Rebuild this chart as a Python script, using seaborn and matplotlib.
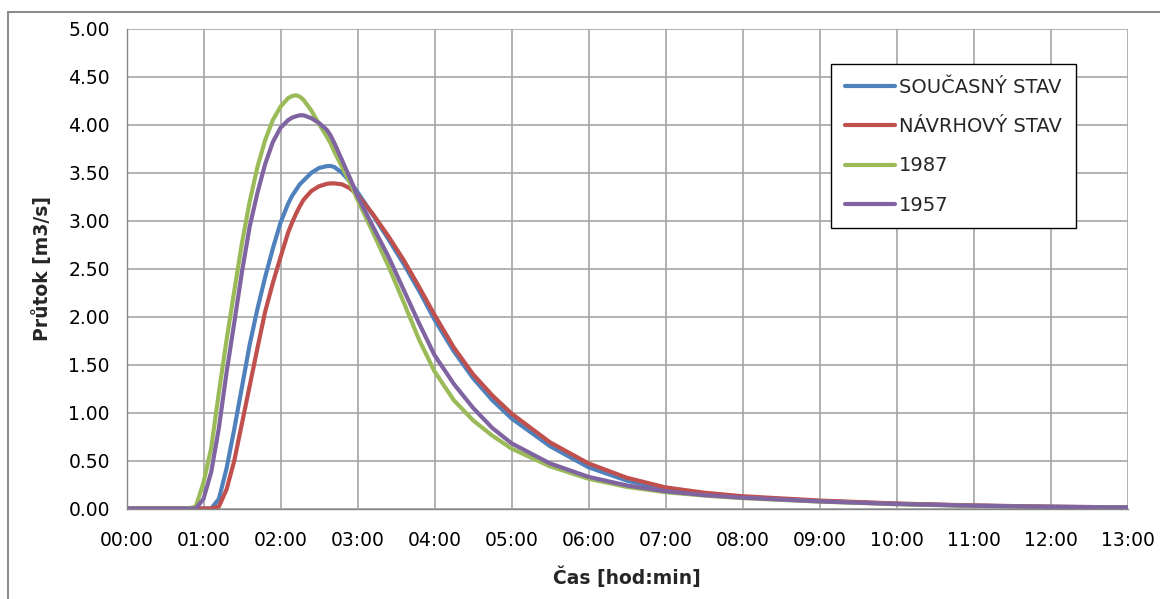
import numpy as np
import pandas as pd
import matplotlib
matplotlib.use("Agg")
import matplotlib.pyplot as plt
from matplotlib.ticker import FuncFormatter
from matplotlib.lines import Line2D
import seaborn as sns

# ---------------- data (time in hours, flow in m3/s) ----------------
time_h = [0, 0.5, 0.8, 0.9, 1.0, 1.1, 1.2, 1.3, 1.4, 1.5, 1.6, 1.7, 1.8, 1.9,
          2.0, 2.1, 2.15, 2.2, 2.25, 2.3, 2.4, 2.5, 2.6, 2.65, 2.7, 2.8, 2.9, 3.0,
          3.2, 3.4, 3.6, 3.8, 4.0, 4.25, 4.5, 4.75, 5.0, 5.5, 6.0, 6.5, 7.0,
          7.5, 8.0, 9.0, 10.0, 11.0, 12.0, 13.0]

soucasny = [0, 0, 0, 0, 0, 0, 0.10, 0.42, 0.83, 1.27, 1.71, 2.08, 2.41, 2.71,
            2.98, 3.18, 3.26, 3.32, 3.38, 3.42, 3.50, 3.55, 3.57, 3.572, 3.56,
            3.50, 3.41, 3.30, 3.06, 2.81, 2.55, 2.27, 1.97, 1.64, 1.36, 1.13,
            0.94, 0.65, 0.43, 0.29, 0.20, 0.15, 0.12, 0.078, 0.049, 0.030,
            0.018, 0.012]

navrhovy = [0, 0, 0, 0, 0, 0, 0.02, 0.20, 0.50, 0.89, 1.28, 1.67, 2.05, 2.35,
            2.62, 2.88, 2.98, 3.07, 3.15, 3.22, 3.31, 3.36, 3.385, 3.39, 3.39,
            3.38, 3.34, 3.27, 3.07, 2.84, 2.59, 2.31, 2.02, 1.68, 1.40, 1.18,
            0.99, 0.69, 0.47, 0.32, 0.22, 0.165, 0.128, 0.083, 0.052, 0.032,
            0.019, 0.012]

y1987 = [0, 0, 0, 0.02, 0.27, 0.63, 1.21, 1.76, 2.27, 2.77, 3.20, 3.56, 3.84,
         4.05, 4.19, 4.28, 4.30, 4.31, 4.295, 4.26, 4.15, 4.01, 3.88, 3.81,
         3.72, 3.56, 3.40, 3.22, 2.88, 2.53, 2.15, 1.76, 1.43, 1.13, 0.92,
         0.76, 0.625, 0.44, 0.31, 0.225, 0.17, 0.135, 0.108, 0.072, 0.045,
         0.027, 0.016, 0.010]

y1957 = [0, 0, 0, 0, 0.10, 0.38, 0.84, 1.42, 1.94, 2.47, 2.94, 3.29, 3.59,
         3.82, 3.97, 4.05, 4.075, 4.09, 4.10, 4.10, 4.07, 4.02, 3.95, 3.89,
         3.81, 3.63, 3.45, 3.26, 2.94, 2.63, 2.28, 1.93, 1.60, 1.30, 1.05,
         0.84, 0.68, 0.47, 0.33, 0.24, 0.18, 0.14, 0.113, 0.074, 0.047,
         0.029, 0.017, 0.011]

series_names = ["SOUČASNÝ STAV", "NÁVRHOVÝ STAV", "1987", "1957"]
series_values = [soucasny, navrhovy, y1987, y1957]
colors = ["#4F81BD", "#C0504D", "#9BBB59", "#8064A2"]

x_ticks = list(range(0, 14))
y_ticks = [0.0, 0.5, 1.0, 1.5, 2.0, 2.5, 3.0, 3.5, 4.0, 4.5, 5.0]

# ---------------- figure ----------------
sns.set_style("white")
plt.rcParams["font.family"] = ["DejaVu Sans"]

W, H = 1160, 599
fig = plt.figure(figsize=(W / 100, H / 100), dpi=100)
ax = fig.add_axes([126.5 / W, 1 - 508.5 / H, (1127.5 - 126.5) / W, (508.5 - 29.0) / H])

frames = []
for name, vals in zip(series_names, series_values):
    frames.append(pd.DataFrame({"t": time_h, "q": vals, "serie": name}))
df = pd.concat(frames, ignore_index=True)

palette = dict(zip(series_names, colors))
sns.lineplot(data=df, x="t", y="q", hue="serie", hue_order=series_names,
             palette=palette, linewidth=3.0, ax=ax, legend=False, sort=False)
for ln in ax.get_lines():
    ln.set_solid_capstyle("round")
    ln.set_solid_joinstyle("round")

ax.set_xlim(0, 13)
ax.set_ylim(0, 5)
ax.set_xticks(x_ticks)
ax.set_yticks(y_ticks)
ax.xaxis.set_major_formatter(FuncFormatter(lambda v, p: f"{int(round(v)):02d}:00"))
ax.yaxis.set_major_formatter(FuncFormatter(lambda v, p: f"{v:.2f}"))

grid_c = "#A6A6A6"
ax.grid(True, color=grid_c, linewidth=1.2)
ax.set_axisbelow(True)
for s in ["top", "right"]:
    ax.spines[s].set_visible(False)
for s in ["left", "bottom"]:
    ax.spines[s].set_color("#868686")
    ax.spines[s].set_linewidth(1.0)
ax.tick_params(axis="both", which="major", length=6, width=1.0, color="#868686",
               labelsize=13.5, labelcolor="black", direction="out")
ax.tick_params(axis="x", pad=10)
ax.tick_params(axis="y", pad=6)

ax.set_xlabel("Čas [hod:min]", fontsize=13.5, fontweight="bold", labelpad=12)
ax.set_ylabel("Průtok [m3/s]", fontsize=13.5, fontweight="bold", labelpad=12)

handles = [Line2D([0], [0], color=c, linewidth=3.0, solid_capstyle="round") for c in colors]
leg = ax.legend(handles, series_names, loc="upper left",
                bbox_to_anchor=(831 / W, 1 - 64 / H), bbox_transform=fig.transFigure,
                fontsize=14, frameon=True, fancybox=False, shadow=False,
                handlelength=2.6, handletextpad=0.2, labelspacing=1.05,
                borderpad=0.7, borderaxespad=0.0)
leg.get_frame().set_edgecolor("black")
leg.get_frame().set_linewidth(1.0)
leg.get_frame().set_facecolor("white")
leg.get_frame().set_alpha(1.0)

# outer chart border (left and top visible)
fig.add_artist(Line2D([8 / W, 8 / W], [0, 1 - 12 / H], transform=fig.transFigure,
                      color="#8C8C8C", linewidth=1.5))
fig.add_artist(Line2D([8 / W, 1.0], [1 - 12 / H, 1 - 12 / H], transform=fig.transFigure,
                      color="#8C8C8C", linewidth=1.5))

fig.savefig("out.png", dpi=100)
